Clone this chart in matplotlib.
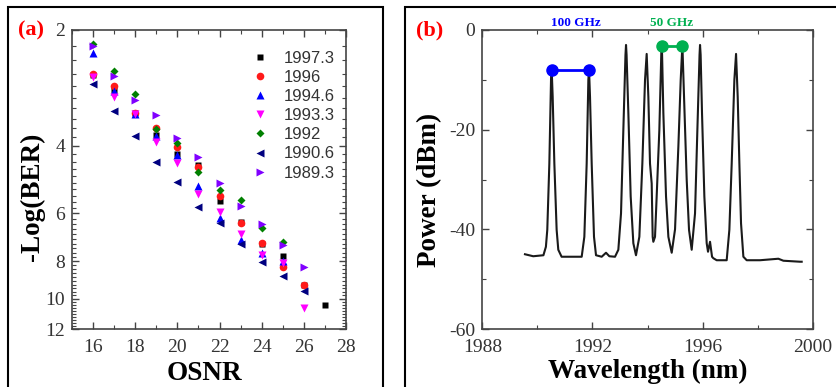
"""
Two-panel figure: BER vs OSNR (a) and WDM spectrum (b)
"""

import numpy as np
import matplotlib
matplotlib.use('Agg')
import matplotlib.pyplot as plt
import matplotlib.ticker as mticker
from matplotlib.patches import Rectangle

plt.rcParams['font.family'] = 'Liberation Serif'
plt.rcParams['axes.unicode_minus'] = False

# ---------------- panel (a) data: -log(BER) vs OSNR ----------------
osnr_1997_3 = [16, 17, 18, 19, 20, 21, 22, 23, 24, 25, 26, 27]
ber_1997_3 = [2.62, 2.86, 3.29, 3.75, 4.20, 4.49, 5.57, 6.32, 7.20, 7.73, 9.20, 10.40]
osnr_1996 = [16, 17, 18, 19, 20, 21, 22, 23, 24, 25, 26]
ber_1996 = [2.60, 2.80, 3.29, 3.60, 4.04, 4.55, 5.40, 6.37, 7.17, 8.27, 9.20]
osnr_1994_6 = [16, 17, 18, 19, 20, 21, 22, 23, 24, 25]
ber_1994_6 = [2.29, 2.88, 3.30, 3.78, 4.23, 5.10, 6.18, 7.02, 7.61, 8.00]
osnr_1993_3 = [16, 17, 18, 19, 20, 21, 22, 23, 24, 25, 26]
ber_1993_3 = [2.65, 2.98, 3.30, 3.91, 4.45, 5.33, 5.94, 6.81, 7.68, 8.10, 10.60]
osnr_1992 = [16, 17, 18, 19, 20, 21, 22, 23, 24, 25]
ber_1992 = [2.17, 2.55, 2.93, 3.63, 3.94, 4.69, 5.22, 5.54, 6.54, 7.12]
osnr_1990_6 = [16, 17, 18, 19, 20, 21, 22, 23, 24, 25, 26]
ber_1990_6 = [2.76, 3.24, 3.78, 4.40, 4.96, 5.79, 6.35, 7.21, 8.05, 8.72, 9.57]
osnr_1989_3 = [16, 17, 18, 19, 20, 21, 22, 23, 24, 25, 26]
ber_1989_3 = [2.20, 2.63, 3.05, 3.32, 3.82, 4.29, 4.99, 5.73, 6.39, 7.27, 8.27]

series_labels = ['1997.3', '1996', '1994.6', '1993.3', '1992', '1990.6', '1989.3']

# ---------------- panel (b) data: optical spectrum ----------------
wl_nm = [1989.55, 1989.85, 1990.22, 1990.31, 1990.36, 1990.435, 1990.496, 1990.52,
         1990.556, 1990.617, 1990.70, 1990.76, 1990.88, 1991.61, 1991.706, 1991.791,
         1991.852, 1991.876, 1991.912, 1991.973, 1992.057, 1992.13, 1992.336, 1992.493,
         1992.614, 1992.82, 1992.941, 1993.038, 1993.123, 1993.20, 1993.22, 1993.24,
         1993.305, 1993.389, 1993.486, 1993.582, 1993.704, 1993.813, 1993.91, 1993.97,
         1994.031, 1994.091, 1994.152, 1994.188, 1994.212, 1994.273, 1994.333, 1994.43,
         1994.50, 1994.515, 1994.53, 1994.576, 1994.673, 1994.758, 1994.879, 1995.0,
         1995.121, 1995.206, 1995.267, 1995.327, 1995.424, 1995.508, 1995.605, 1995.726,
         1995.811, 1995.89, 1995.908, 1995.93, 1995.98, 1996.065, 1996.15, 1996.198,
         1996.271, 1996.344, 1996.392, 1996.513, 1996.876, 1996.973, 1997.058, 1997.155,
         1997.216, 1997.276, 1997.337, 1997.397, 1997.482, 1997.603, 1998.087, 1998.753,
         1998.935, 1999.54, 1999.60]
power_dbm = [-45.0, -45.4, -45.2, -43.5, -40.1, -26.8, -10.0, -7.9,
             -13.4, -26.8, -40.1, -44.1, -45.5, -45.5, -41.5, -26.8,
             -10.0, -7.9, -13.4, -26.8, -41.5, -45.2, -45.5, -44.7,
             -45.4, -45.5, -44.1, -36.8, -20.0, -5.0, -3.0, -5.0,
             -16.7, -33.4, -42.8, -45.2, -41.5, -26.8, -10.0, -4.8,
             -13.4, -26.8, -30.8, -41.5, -42.5, -41.5, -33.4, -20.1,
             -5.0, -3.0, -5.0, -16.7, -33.4, -41.5, -44.7, -40.0,
             -23.4, -10.0, -3.0, -13.4, -30.1, -40.1, -44.1, -36.8,
             -20.1, -5.0, -3.0, -5.0, -16.7, -33.4, -42.8, -44.5,
             -42.5, -45.5, -45.8, -46.2, -46.2, -40.1, -26.8, -10.0,
             -4.8, -13.4, -26.8, -38.8, -45.5, -46.2, -46.2, -45.9,
             -46.3, -46.5, -46.5]

spacing_100_wl = [1990.52, 1991.88]
spacing_100_pw = [-8.0, -8.0]
spacing_50_wl = [1994.52, 1995.27]
spacing_50_pw = [-3.3, -3.3]

# ---------------- figure ----------------
fig = plt.figure(figsize=(8.37, 3.87), dpi=100)
W, H = 837.0, 387.0

ax0 = fig.add_axes([72 / W, 1 - 329 / H, 274 / W, 299 / H])
ax1 = fig.add_axes([482.3 / W, 1 - 329 / H, 330.4 / W, 299 / H])

# panel frames
fig.patches.append(Rectangle((8 / W, -0.05), 375 / W, 1 - 7 / H + 0.05,
                             transform=fig.transFigure, fill=False, lw=1.5, ec='black'))
fig.patches.append(Rectangle((405 / W, -0.05), 0.6, 1 - 7 / H + 0.05,
                             transform=fig.transFigure, fill=False, lw=1.5, ec='black'))

# (a) scatter
xs = [osnr_1997_3, osnr_1996, osnr_1994_6, osnr_1993_3, osnr_1992, osnr_1990_6, osnr_1989_3]
ys = [ber_1997_3, ber_1996, ber_1994_6, ber_1993_3, ber_1992, ber_1990_6, ber_1989_3]
colors = ['black', '#ff1a1a', '#0000ff', '#ff00ff', '#008000', '#000080', '#8000ff']
markers = ['s', 'o', '^', 'v', 'D', '<', '>']
sizes = [5, 5.5, 6, 6, 4.5, 6, 6]
for x, y, c, m, s, lab in zip(xs, ys, colors, markers, sizes, series_labels):
    ax0.plot(x, y, linestyle='none', marker=m, ms=s, color=c, mec='none', label=lab)

ax0.set_yscale('log')
ax0.set_ylim(12, 2)
ax0.set_xlim(15, 28)
ax0.yaxis.set_major_locator(mticker.FixedLocator([2, 4, 6, 8, 10, 12]))
ax0.yaxis.set_major_formatter(mticker.FuncFormatter(lambda v, p: f'{v:g}'))
minor_y = [v for v in np.arange(2, 12.01, 0.2) if abs(v / 2 - round(v / 2)) > 1e-6]
ax0.yaxis.set_minor_locator(mticker.FixedLocator(minor_y))
ax0.yaxis.set_minor_formatter(mticker.NullFormatter())
ax0.xaxis.set_major_locator(mticker.MultipleLocator(2))
ax0.xaxis.set_minor_locator(mticker.MultipleLocator(1))

leg = ax0.legend(loc='upper left', bbox_to_anchor=(0.657, 0.931), frameon=False,
                 prop={'family': 'Liberation Sans', 'size': 12}, handletextpad=0.9,
                 labelspacing=0.25, handlelength=1.0, borderpad=0, borderaxespad=0)
for t in leg.get_texts():
    t.set_color('#333333')

# (b) spectrum
ax1.plot(wl_nm, power_dbm, color='#1a1a1a', lw=1.5)
ax1.plot(spacing_100_wl, spacing_100_pw, color='#0000ff', lw=2, marker='o', ms=8)
ax1.plot(spacing_50_wl, spacing_50_pw, color='#00b050', lw=2, marker='o', ms=8)
ax1.text(1991.40, 1.5, '100 GHz', color='#0000ff', fontsize=9.5, fontweight='bold',
         ha='center', va='center', clip_on=False)
ax1.text(1994.88, 1.5, '50 GHz', color='#00b050', fontsize=9.5, fontweight='bold',
         ha='center', va='center', clip_on=False)
ax1.set_xlim(1988, 2000)
ax1.set_ylim(-60, 0)
ax1.xaxis.set_major_locator(mticker.MultipleLocator(4))
ax1.xaxis.set_minor_locator(mticker.MultipleLocator(2))
ax1.yaxis.set_major_locator(mticker.MultipleLocator(20))
ax1.yaxis.set_minor_locator(mticker.MultipleLocator(10))
ax1.xaxis.set_major_formatter(mticker.FuncFormatter(lambda v, p: f'{v:.0f}'))

for ax in (ax0, ax1):
    ax.tick_params(which='both', direction='in', top=True, right=True,
                   color='#444444', labelsize=14, labelcolor='#333333')
    ax.tick_params(which='major', length=5, width=1, pad=5)
    ax.tick_params(which='minor', length=3, width=0.8)
    ax.tick_params(axis='x', which='major', pad=7)
    for sp in ax.spines.values():
        sp.set_color('#444444')
        sp.set_linewidth(1.2)

# labels
fig.text(18 / W, 1 - 30 / H, '(a)', color='red', fontsize=16, fontweight='bold', va='center')
fig.text(416 / W, 1 - 30 / H, '(b)', color='red', fontsize=16, fontweight='bold', va='center')
fig.text(32 / W, 1 - 197 / H, '-Log(BER)', rotation=90, fontsize=19.5, fontweight='bold',
         ha='center', va='center')
fig.text(204 / W, 1 - 373 / H, 'OSNR', fontsize=19.5, fontweight='bold', ha='center', va='center')
fig.text(430 / W, 1 - 190 / H, 'Power (dBm)', rotation=90, fontsize=19.5, fontweight='bold',
         ha='center', va='center')
fig.text(648 / W, 1 - 371 / H, 'Wavelength (nm)', fontsize=19.5, fontweight='bold',
         ha='center', va='center')

fig.savefig('out.png', dpi=100)
